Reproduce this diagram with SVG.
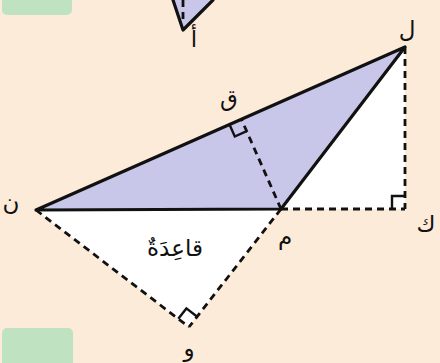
<svg xmlns="http://www.w3.org/2000/svg" width="440" height="363" viewBox="0 0 440 363">
<style>
.bg{fill:#fdebd9}
.tab{fill:#bfe2c1}
.solid{fill:none;stroke:#111;stroke-width:3.2;stroke-linejoin:round;stroke-linecap:round}
.dash{fill:none;stroke:#111;stroke-width:2.8;stroke-dasharray:7 5}
.mark{fill:none;stroke:#111;stroke-width:2.4}
.lav{fill:#c8c7ea}
.wh{fill:#ffffff}
.lbl{font-family:"DejaVu Sans",sans-serif;font-size:23px;fill:#111;text-anchor:middle}
</style>
<rect class="bg" x="0" y="0" width="440" height="363"/>
<rect class="tab" x="2" y="-8" width="70" height="23" rx="5"/>
<rect class="tab" x="2" y="328" width="71" height="45" rx="5"/>

<g id="fills">
  <polygon class="lav" points="173,0 183,30 213,0"/>
  <polygon class="lav" points="36,210 405,47 281,209"/>
  <polygon class="wh" points="281,209 405,47 405,209"/>
  <polygon class="wh" points="36,210 281,209 189,327"/>
</g>

<g id="connectors">
  <line class="dash" x1="183" y1="0" x2="183" y2="22"/>
  <polyline class="solid" points="173,0 183,30 213,0"/>
  <line class="dash" x1="405" y1="47" x2="405" y2="209"/>
  <line class="dash" x1="281" y1="209" x2="405" y2="209"/>
  <line class="dash" x1="281" y1="209" x2="241.4" y2="119.3"/>
  <line class="dash" x1="36" y1="210" x2="189" y2="327"/>
  <line class="dash" x1="281" y1="209" x2="189" y2="327"/>
  <polygon class="solid" points="36,210 405,47 281,209"/>
  <polyline class="mark" points="392,209 392,196 405,196"/>
  <polyline class="mark" points="229.5,124.6 234.8,136.5 246.7,131.2"/>
  <polyline class="mark" points="178.3,318.8 186.4,308.4 196.9,316.5"/>
</g>

<g id="node-alef"><text class="lbl" x="194" y="47">أ</text></g>
<g id="node-lam"><text class="lbl" x="407" y="37">ل</text></g>
<g id="node-qaf"><text class="lbl" x="229" y="106">ق</text></g>
<g id="node-nun"><text class="lbl" x="11" y="210">ن</text></g>
<g id="node-kaf"><text class="lbl" x="426" y="232">ك</text></g>
<g id="node-mim"><text class="lbl" x="285" y="244">م</text></g>
<g id="node-waw"><text class="lbl" x="189" y="356">و</text></g>
<g id="label-base"><text class="lbl" x="175" y="256">قاعِدَةٌ</text></g>
</svg>
